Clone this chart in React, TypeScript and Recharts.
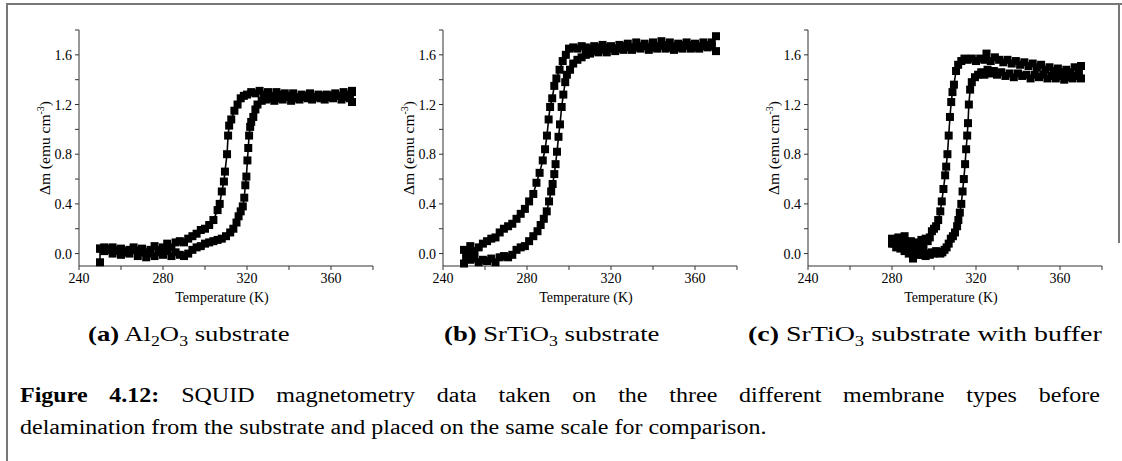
import React from 'react'
import { ScatterChart, Scatter, XAxis, YAxis, ZAxis, Label } from 'recharts'

// ── Data: [temperature K, Δm emu cm⁻³] ────────────────────────────────────

const A_COOL: [number, number][] = [
  [250, 0.04], [252, 0.05], [254, 0.03], [256, 0.05], [258, 0.02], [260, 0.04], [262, 0.01], [264, 0.03],
  [266, 0.05], [268, 0.02], [270, 0.04], [272, 0.01], [274, 0.03], [276, 0.06], [278, 0.03], [280, 0.05],
  [282, 0.08], [284, 0.05], [286, 0.09], [288, 0.1], [290, 0.09], [292, 0.12], [294, 0.14], [296, 0.16],
  [298, 0.19], [300, 0.2], [302, 0.23], [304, 0.27], [306, 0.35], [307, 0.4], [308, 0.5], [309, 0.58],
  [309.5, 0.66], [310.5, 0.8], [311, 0.95], [311.5, 1.03], [312.5, 1.08], [314, 1.15], [315.5, 1.2],
  [317, 1.25], [318.5, 1.27], [320, 1.28], [322, 1.3], [324, 1.29], [326, 1.31], [328, 1.28], [330, 1.3],
  [332, 1.27], [334, 1.3], [336, 1.28], [338, 1.29], [340, 1.27], [342, 1.29], [344, 1.26], [346, 1.28],
  [348, 1.27], [350, 1.29], [352, 1.26], [354, 1.28], [356, 1.27], [358, 1.28], [360, 1.27], [362, 1.29],
  [364, 1.27], [366, 1.3], [368, 1.28], [370, 1.31], [370, 1.22],
]

const A_HEAT: [number, number][] = [
  [250, -0.07], [250, 0.04], [252, 0.02], [254, 0.04], [256, 0.0], [258, 0.03], [260, -0.01], [262, 0.02],
  [264, 0.0], [266, 0.03], [268, -0.02], [270, 0.01], [272, -0.03], [274, 0.0], [276, -0.02], [278, 0.01],
  [280, -0.01], [282, 0.02], [284, -0.02], [286, 0.01], [288, -0.01], [290, -0.02], [292, 0.0], [294, 0.03],
  [296, 0.05], [298, 0.06], [300, 0.08], [302, 0.09], [304, 0.1], [306, 0.11], [308, 0.12], [310, 0.14],
  [312, 0.17], [313.5, 0.2], [315, 0.25], [316, 0.3], [317, 0.34], [318, 0.38], [318.7, 0.45], [319.2, 0.55],
  [319.7, 0.62], [320.2, 0.75], [320.6, 0.85], [321, 0.95], [321.5, 1.02], [322, 1.06], [323, 1.1],
  [324, 1.16], [325, 1.2], [327, 1.23], [329, 1.24], [331, 1.25], [333, 1.23], [335, 1.25], [337, 1.24],
  [339, 1.26], [341, 1.23], [343, 1.25], [345, 1.24], [347, 1.26], [349, 1.25], [351, 1.24], [353, 1.26],
  [355, 1.25], [357, 1.24], [359, 1.26], [361, 1.25], [363, 1.27], [365, 1.24], [367, 1.26], [369, 1.25],
  [370, 1.3],
]

const B_COOL: [number, number][] = [
  [250, 0.03], [252, 0.0], [253, 0.06], [255, 0.02], [257, 0.05], [259, 0.08], [261, 0.1], [263, 0.12],
  [265, 0.13], [267, 0.17], [269, 0.2], [271, 0.22], [273, 0.24], [275, 0.28], [277, 0.32], [279, 0.36],
  [281, 0.42], [283, 0.48], [284.5, 0.57], [286, 0.65], [287.5, 0.75], [288.6, 0.84], [289.5, 0.95],
  [290.3, 1.08], [291, 1.18], [292, 1.25], [293, 1.35], [294, 1.41], [295.5, 1.48], [297, 1.55],
  [298.5, 1.6], [300, 1.65], [302, 1.66], [304, 1.65], [306, 1.67], [308, 1.66], [310, 1.65], [312, 1.67],
  [314, 1.66], [316, 1.68], [318, 1.66], [320, 1.67], [322, 1.65], [324, 1.68], [326, 1.67], [328, 1.69],
  [330, 1.66], [332, 1.7], [334, 1.67], [336, 1.69], [338, 1.66], [340, 1.7], [342, 1.67], [344, 1.71],
  [346, 1.68], [348, 1.7], [350, 1.67], [352, 1.69], [354, 1.68], [356, 1.7], [358, 1.68], [360, 1.69],
  [362, 1.67], [364, 1.7], [366, 1.68], [368, 1.7], [370, 1.75],
]

const B_HEAT: [number, number][] = [
  [250, -0.08], [251, -0.02], [253, -0.05], [255, -0.04], [257, -0.07], [259, -0.05], [261, -0.06],
  [263, -0.04], [265, -0.07], [267, -0.03], [269, -0.02], [271, -0.03], [273, -0.01], [275, 0.03],
  [277, 0.05], [279, 0.06], [281, 0.1], [283, 0.14], [285, 0.18], [286.5, 0.23], [288, 0.28], [289.4, 0.34],
  [290.5, 0.42], [291.5, 0.5], [292.2, 0.56], [293, 0.64], [293.6, 0.72], [294.3, 0.82], [295, 0.94],
  [295.7, 1.04], [296.5, 1.18], [297.3, 1.28], [298.2, 1.38], [299, 1.44], [300.5, 1.48], [302, 1.53],
  [304, 1.56], [306, 1.58], [308, 1.6], [310, 1.61], [312, 1.63], [314, 1.62], [316, 1.64], [318, 1.62],
  [320, 1.65], [322, 1.63], [324, 1.65], [326, 1.64], [328, 1.66], [330, 1.64], [332, 1.66], [334, 1.65],
  [336, 1.67], [338, 1.64], [340, 1.66], [342, 1.65], [344, 1.67], [346, 1.65], [348, 1.66], [350, 1.64],
  [352, 1.66], [354, 1.65], [356, 1.67], [358, 1.65], [360, 1.66], [362, 1.65], [364, 1.67], [366, 1.66],
  [368, 1.67], [370, 1.63],
]

const C_COOL: [number, number][] = [
  [280, 0.12], [281, 0.08], [282, 0.1], [283, 0.13], [284, 0.06], [285, 0.1], [286, 0.14], [287, 0.05],
  [288, 0.09], [289, 0.1], [290, 0.06], [291, 0.09], [292, 0.05], [293, 0.07], [294, 0.11], [295, 0.06],
  [296, 0.12], [297, 0.1], [298, 0.13], [299, 0.18], [300, 0.2], [301, 0.22], [302, 0.27], [303, 0.34],
  [303.7, 0.42], [304.5, 0.52], [305.3, 0.63], [305.8, 0.7], [306.4, 0.8], [307, 0.95], [307.6, 1.1],
  [308.2, 1.22], [308.8, 1.3], [309.5, 1.36], [310.5, 1.47], [311.5, 1.52], [313, 1.55], [314.5, 1.57],
  [316, 1.56], [318, 1.57], [320, 1.55], [322, 1.57], [324, 1.56], [325, 1.61], [327, 1.55], [329, 1.58],
  [331, 1.56], [333, 1.54], [335, 1.56], [337, 1.53], [339, 1.55], [341, 1.52], [343, 1.54], [345, 1.51],
  [347, 1.53], [349, 1.5], [351, 1.52], [353, 1.48], [355, 1.5], [357, 1.47], [359, 1.49], [361, 1.46],
  [363, 1.48], [365, 1.46], [367, 1.5], [369, 1.47], [370, 1.51],
]

const C_HEAT: [number, number][] = [
  [280, 0.08], [281, 0.1], [282, 0.05], [283, 0.07], [284, 0.04], [285, 0.07], [286, 0.02], [287, 0.05],
  [288, 0.0], [289, 0.03], [290, -0.04], [291, 0.0], [292, -0.01], [293, 0.02], [294, -0.01], [295, 0.0],
  [296, -0.02], [297, 0.0], [298, -0.01], [299, 0.01], [300, 0.0], [301, 0.02], [302, 0.01], [303, 0.0],
  [304, 0.01], [305, 0.03], [306, 0.05], [307, 0.08], [308, 0.12], [309, 0.14], [310, 0.17], [311, 0.22],
  [311.6, 0.27], [312.3, 0.33], [313, 0.4], [313.6, 0.5], [314.2, 0.6], [314.8, 0.72], [315.3, 0.84],
  [315.8, 0.95], [316.2, 1.05], [316.6, 1.2], [317.2, 1.32], [318, 1.38], [319.5, 1.42], [321, 1.44],
  [322.5, 1.46], [324, 1.44], [325.5, 1.48], [327, 1.45], [328.5, 1.47], [330, 1.44], [332, 1.46],
  [334, 1.43], [336, 1.45], [338, 1.42], [340, 1.45], [342, 1.43], [344, 1.44], [346, 1.41], [348, 1.44],
  [350, 1.42], [352, 1.44], [354, 1.41], [356, 1.43], [358, 1.41], [360, 1.43], [362, 1.4], [364, 1.42],
  [366, 1.41], [368, 1.43], [370, 1.41],
]

const X_TICKS = [240, 260, 280, 300, 320, 340, 360, 380]
const Y_TICKS = [0, 0.2, 0.4, 0.6, 0.8, 1.0, 1.2, 1.4, 1.6, 1.8]

// ── Shared styles ─────────────────────────────────────────────────────────

const SERIF = 'Liberation Serif'
const AXIS_STROKE = '#333'
const PLOT_LEFT = 79
const PLOT_BOTTOM = 266

const toPoints = (rows: [number, number][]) => rows.map(([t, m]) => ({ t, m }))

function XTick(props: any) {
  const v = props.payload.value
  if (v % 40 !== 0 || v >= 380) return null
  return (
    <text x={props.payload.coordinate} y={PLOT_BOTTOM + 17} textAnchor="middle"
      fontFamily={SERIF} fontSize={14} fill="#000">{v}</text>
  )
}

function YTick(props: any) {
  const v = props.payload.value
  if (Math.round(v * 10) % 4 !== 0 || v > 1.7) return null
  return (
    <text x={PLOT_LEFT - 7} y={props.payload.coordinate + 5} textAnchor="end"
      fontFamily={SERIF} fontSize={14} fill="#000">{v.toFixed(1)}</text>
  )
}

function YLabel() {
  return (
    <text x={45} y={148} transform="rotate(-90, 45, 148)" textAnchor="middle" dy={5}
      fontFamily={SERIF} fontSize={15.5} fill="#000">
      Δm (emu cm<tspan dy={-6} fontSize={10}>-3</tspan><tspan dy={6}>)</tspan>
    </text>
  )
}

function XLabel() {
  return (
    <text x={222} y={302} textAnchor="middle" fontFamily={SERIF} fontSize={14} fill="#000">
      Temperature (K)
    </text>
  )
}

interface PanelProps {
  left: number
  cool: [number, number][]
  heat: [number, number][]
}

function Panel({ left, cool, heat }: PanelProps) {
  const line = { stroke: '#000', strokeWidth: 1.6 }
  return (
    <div style={{ position: 'absolute', left, top: 0 }}>
      <ScatterChart width={380} height={310} margin={{ top: 30, right: 7, bottom: 4, left: 39 }}>
        <XAxis
          type="number" dataKey="t" domain={[240, 380]} ticks={X_TICKS} interval={0}
          stroke={AXIS_STROKE} tick={<XTick />} tickSize={4} height={40}
        >
          <Label content={() => <XLabel />} />
        </XAxis>
        <YAxis
          type="number" dataKey="m" domain={[-0.1, 1.8]} ticks={Y_TICKS} interval={0}
          stroke={AXIS_STROKE} tick={<YTick />} tickSize={4} width={40}
        >
          <Label content={() => <YLabel />} />
        </YAxis>
        <ZAxis range={[13, 13]} />
        <Scatter data={toPoints(cool)} fill="#000" shape="square" line={line} isAnimationActive={false} />
        <Scatter data={toPoints(heat)} fill="#000" shape="square" line={line} isAnimationActive={false} />
      </ScatterChart>
    </div>
  )
}

const CAPTION = {
  position: 'absolute' as const, top: 322, fontFamily: SERIF, fontSize: 21, color: '#000',
  whiteSpace: 'nowrap' as const, transform: 'scaleX(1.27)', transformOrigin: 'left top',
}
const SUB = { fontSize: 14 }

export default function App() {
  return (
    <div style={{ position: 'absolute', left: 0, top: 0, width: 1122, height: 461, background: '#fff', overflow: 'hidden' }}>
      {/* frame */}
      <div style={{ position: 'absolute', left: 6, top: 3, width: 1116, height: 2, background: '#777' }} />
      <div style={{ position: 'absolute', left: 6, top: 3, width: 2, height: 458, background: '#777' }} />
      <div style={{ position: 'absolute', left: 1118, top: 3, width: 2, height: 240, background: '#777' }} />

      <Panel left={0} cool={A_COOL} heat={A_HEAT} />
      <Panel left={364} cool={B_COOL} heat={B_HEAT} />
      <Panel left={729} cool={C_COOL} heat={C_HEAT} />

      <div style={{ ...CAPTION, left: 88 }}>
        <b>(a)</b> Al<sub style={SUB}>2</sub>O<sub style={SUB}>3</sub> substrate
      </div>
      <div style={{ ...CAPTION, left: 444 }}>
        <b>(b)</b> SrTiO<sub style={SUB}>3</sub> substrate
      </div>
      <div style={{ ...CAPTION, left: 748, transform: 'scaleX(1.33)' }}>
        <b>(c)</b> SrTiO<sub style={SUB}>3</sub> substrate with buffer
      </div>

      <div style={{
        position: 'absolute', left: 20, top: 384, width: 900, fontFamily: SERIF, fontSize: 20, color: '#000',
        textAlign: 'justify', textAlignLast: 'justify', transform: 'scaleX(1.2)', transformOrigin: 'left top',
      }}>
        <b>Figure 4.12:</b> SQUID magnetometry data taken on the three different membrane types before
      </div>
      <div style={{
        position: 'absolute', left: 20, top: 416, fontFamily: SERIF, fontSize: 20, color: '#000',
        whiteSpace: 'nowrap', transform: 'scaleX(1.2)', transformOrigin: 'left top',
      }}>
        delamination from the substrate and placed on the same scale for comparison.
      </div>
    </div>
  )
}
